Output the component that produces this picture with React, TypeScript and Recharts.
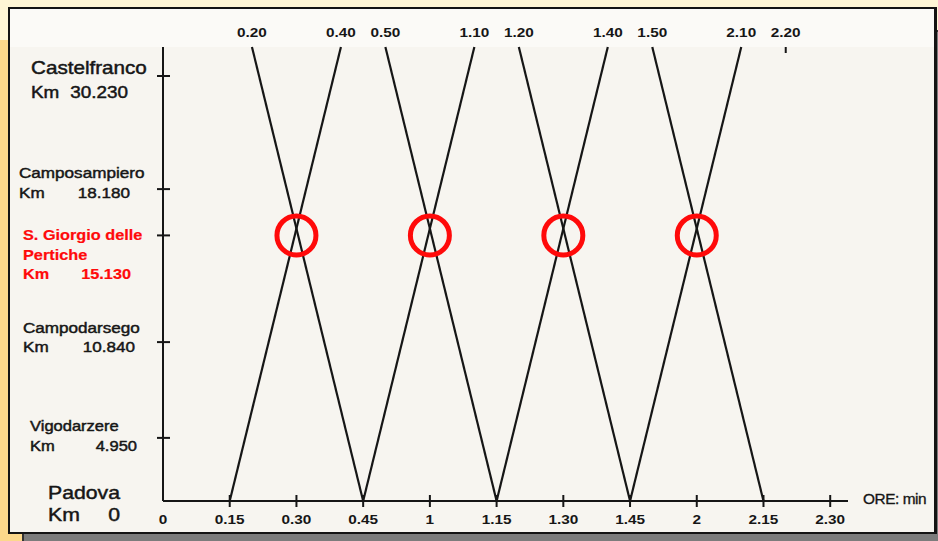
import React from "react";
import { ComposedChart, Line, Scatter, XAxis, YAxis } from "recharts";

// Orario grafico Padova – Castelfranco: times in minutes from 0.00, distances in km.
const STATION_NAMES = [
  ["Padova"],
  ["Vigodarzere"],
  ["Campodarsego"],
  ["S. Giorgio delle", "Pertiche"],
  ["Camposampiero"],
  ["Castelfranco"],
];
const STATION_KM = [0, 4.95, 10.84, 15.13, 18.18, 30.23];

// Trains leaving Castelfranco towards Padova
const DOWN_DEPART = [20, 50, 80, 110];
const DOWN_ARRIVE = [45, 75, 105, 135];
// Trains leaving Padova towards Castelfranco
const UP_DEPART = [15, 45, 75, 105];
const UP_ARRIVE = [40, 70, 100, 130];

// Crossings at S. Giorgio delle Pertiche
const CROSSING_TIMES = [30, 60, 90, 120];
const CROSSING_KM = 15.13;

const TIME_TICKS = [0, 15, 30, 45, 60, 75, 90, 105, 120, 135, 150];
const TOP_TICKS = [20, 40, 50, 70, 80, 100, 110, 130, 140];

const FONT = '"Liberation Sans", Arial, sans-serif';
const INK = "#161616";
const RED = "#ff0a0a";
const STRETCH = 1.18; // the original lettering is drawn wide

const PADOVA = STATION_KM[0];
const CASTELFRANCO = STATION_KM[STATION_KM.length - 1];

const trains = [
  ...DOWN_DEPART.map((t, i) => [
    { t, km: CASTELFRANCO },
    { t: DOWN_ARRIVE[i], km: PADOVA },
  ]),
  ...UP_DEPART.map((t, i) => [
    { t, km: PADOVA },
    { t: UP_ARRIVE[i], km: CASTELFRANCO },
  ]),
];

const crossings = CROSSING_TIMES.map((t) => ({ t, km: CROSSING_KM }));

function fmtTime(m: number) {
  const h = Math.floor(m / 60);
  const mm = m % 60;
  return mm === 0 ? `${h}` : `${h}.${String(mm).padStart(2, "0")}`;
}

// The station axis is schematic: stations are not spaced in proportion to km.
const AXIS_STOPS = [0, 0.139, 0.35, 0.585, 0.687, 1];

function schematicScale(knots: number[], stops: number[]): any {
  let dom = [knots[0], knots[knots.length - 1]];
  let rng = [0, 1];
  const frac = (v: number) => {
    if (v <= knots[0]) return stops[0];
    for (let i = 1; i < knots.length; i++) {
      if (v <= knots[i]) {
        const k = (v - knots[i - 1]) / (knots[i] - knots[i - 1]);
        return stops[i - 1] + k * (stops[i] - stops[i - 1]);
      }
    }
    return stops[stops.length - 1];
  };
  const scale: any = (v: number) => rng[0] + frac(Number(v)) * (rng[1] - rng[0]);
  scale.domain = (d?: number[]) => {
    if (d === undefined) return dom;
    dom = [...d];
    return scale;
  };
  scale.range = (r?: number[]) => {
    if (r === undefined) return rng;
    rng = [...r];
    return scale;
  };
  scale.copy = () => schematicScale(knots, stops).domain(dom).range(rng);
  scale.ticks = () => [...knots];
  scale.invert = (p: number) => {
    const f = (p - rng[0]) / (rng[1] - rng[0]);
    for (let i = 1; i < stops.length; i++) {
      if (f <= stops[i]) {
        const k = (f - stops[i - 1]) / (stops[i] - stops[i - 1]);
        return knots[i - 1] + k * (knots[i] - knots[i - 1]);
      }
    }
    return knots[knots.length - 1];
  };
  return scale;
}

const yScale = schematicScale(STATION_KM, AXIS_STOPS);

// label layout per station (relative to the tick)
const LABEL_LAYOUT = [
  { left: 48, size: 18, kmSize: 18, lineDy: [-2.5], kmDy: 20.5, numEnd: 120, mark: 0, showMark: false },
  { left: 30, size: 14, kmSize: 14, lineDy: [-7], kmDy: 13, numEnd: 137, mark: 0, showMark: true },
  { left: 23, size: 14.5, kmSize: 14.5, lineDy: [-9], kmDy: 10, numEnd: 135, mark: 0, showMark: true },
  { left: 23, size: 13.8, kmSize: 13.8, lineDy: [5, 25], kmDy: 44, numEnd: 131, mark: 0, showMark: true, red: true },
  { left: 19, size: 14.5, kmSize: 14.5, lineDy: [-11], kmDy: 9, numEnd: 130, mark: 0, showMark: true },
  { left: 31, size: 17.5, kmSize: 16, lineDy: [27.5], kmDy: 51.5, numEnd: 128, mark: 29, showMark: true },
];

function StationTick(props: any) {
  const { x, y, payload } = props;
  const i = STATION_KM.indexOf(payload.value);
  if (i < 0) return null;
  const L = LABEL_LAYOUT[i];
  const fill = L.red ? RED : INK;
  const weight = L.red ? 700 : 400;
  const km = STATION_KM[i] === 0 ? "0" : STATION_KM[i].toFixed(3);
  return (
    <g>
      {L.showMark && (
        <line x1={x - 6} x2={x + 7} y1={y + L.mark} y2={y + L.mark} stroke={INK} strokeWidth={2} />
      )}
      <g
        transform={`translate(${L.left},${y}) scale(${STRETCH},1)`}
        fontFamily={FONT}
        fill={fill}
        stroke={fill}
        strokeWidth={L.red ? 0.2 : 0.45}
        fontWeight={weight}
      >
        {STATION_NAMES[i].map((s, k) => (
          <text key={k} x={0} y={L.lineDy[k]} fontSize={L.size}>
            {s}
          </text>
        ))}
        <text x={0} y={L.kmDy} fontSize={L.kmSize}>
          Km
        </text>
        <text x={(L.numEnd - L.left) / STRETCH} y={L.kmDy} textAnchor="end" fontSize={L.kmSize}>
          {km}
        </text>
      </g>
    </g>
  );
}

function TimeTick(props: any) {
  const { x, y, payload } = props;
  const v = payload.value;
  return (
    <g>
      {v !== 0 && <line x1={x} x2={x} y1={y - 6} y2={y + 6} stroke={INK} strokeWidth={2} />}
      <g transform={`translate(${x},${y + 23}) scale(${STRETCH},1)`}>
        <text x={0} y={0} textAnchor="middle" fontFamily={FONT} fontSize={13} fontWeight={700} fill={INK}>
          {fmtTime(v)}
        </text>
      </g>
    </g>
  );
}

function TopTick(props: any) {
  const { x, y, payload } = props;
  const v = payload.value;
  const hasTrain = DOWN_DEPART.includes(v) || UP_ARRIVE.includes(v);
  return (
    <g>
      {!hasTrain && <line x1={x} x2={x} y1={y} y2={y + 6} stroke={INK} strokeWidth={2} />}
      <g transform={`translate(${x},${y - 10}) scale(${STRETCH},1)`}>
        <text x={0} y={0} textAnchor="middle" fontFamily={FONT} fontSize={13} fontWeight={700} fill={INK}>
          {fmtTime(v)}
        </text>
      </g>
    </g>
  );
}

function Ring(props: any) {
  const { cx, cy } = props;
  if (cx == null || cy == null) return null;
  return <circle cx={cx} cy={cy} r={19.5} fill="none" stroke={RED} strokeWidth={5} />;
}

function OreLabel(props: any) {
  const vb = props.viewBox || {};
  const x = (vb.x ?? 163) + (vb.width ?? 685) + 15;
  const y = (vb.y ?? 501) + 3;
  return (
    <g transform={`translate(${x},${y}) scale(1.1,1)`}>
      <text x={0} y={0} fontFamily={FONT} fontSize={14} fill={INK} stroke={INK} strokeWidth={0.3} letterSpacing={-0.4}>
        ORE: min
      </text>
    </g>
  );
}

export default function App() {
  return (
    <div
      style={{
        position: "absolute",
        left: 0,
        top: 0,
        width: 938,
        height: 541,
        overflow: "hidden",
        background: "linear-gradient(#fff6d6 0px, #fff6d6 40px, #fcd88b 40px)",
      }}
    >
      <div
        style={{
          position: "absolute",
          left: 22,
          top: 30,
          right: 0,
          bottom: 0,
          background: "#7c7c7c",
          borderTop: "2px solid #333",
          borderLeft: "2px solid #333",
        }}
      />
      <div
        style={{
          position: "absolute",
          left: 8,
          top: 7,
          width: 929,
          height: 527,
          boxSizing: "border-box",
          border: "2px solid #141414",
          borderRightWidth: 3,
          background: "linear-gradient(#fbfaf7 0px, #fbfaf7 38px, #f7f5f0 38px)",
        }}
      />
      <div style={{ position: "absolute", left: 0, top: 0 }}>
        <ComposedChart width={938} height={541} margin={{ top: 17, right: 90, bottom: 10, left: 8 }}>
          <XAxis
            xAxisId={0}
            type="number"
            dataKey="t"
            domain={[0, 154]}
            ticks={TIME_TICKS}
            interval={0}
            height={30}
            tickLine={false}
            tickSize={0}
            tickMargin={0}
            axisLine={{ stroke: INK, strokeWidth: 2 }}
            tick={<TimeTick />}
            label={{ content: (p: any) => <OreLabel {...p} /> }}
          />
          <XAxis
            xAxisId="top"
            orientation="top"
            type="number"
            dataKey="t"
            domain={[0, 154]}
            ticks={TOP_TICKS}
            interval={0}
            height={30}
            tickLine={false}
            tickSize={0}
            tickMargin={0}
            axisLine={false}
            tick={<TopTick />}
          />
          <YAxis
            type="number"
            dataKey="km"
            domain={[PADOVA, CASTELFRANCO]}
            scale={yScale}
            ticks={STATION_KM}
            interval={0}
            width={155}
            tickLine={false}
            tickSize={0}
            tickMargin={0}
            axisLine={{ stroke: INK, strokeWidth: 2 }}
            tick={<StationTick />}
          />
          {trains.map((d, i) => (
            <Line
              key={i}
              data={d}
              dataKey="km"
              xAxisId={0}
              stroke={INK}
              strokeWidth={2.2}
              dot={false}
              activeDot={false}
              isAnimationActive={false}
            />
          ))}
          {/* keeps the departure/arrival time axis on top bound to the same trains */}
          <Line
            data={trains[0]}
            dataKey="km"
            xAxisId="top"
            stroke="none"
            dot={false}
            activeDot={false}
            isAnimationActive={false}
          />
          <Scatter
            data={crossings}
            dataKey="km"
            xAxisId={0}
            shape={<Ring />}
            isAnimationActive={false}
          />
        </ComposedChart>
      </div>
    </div>
  );
}
